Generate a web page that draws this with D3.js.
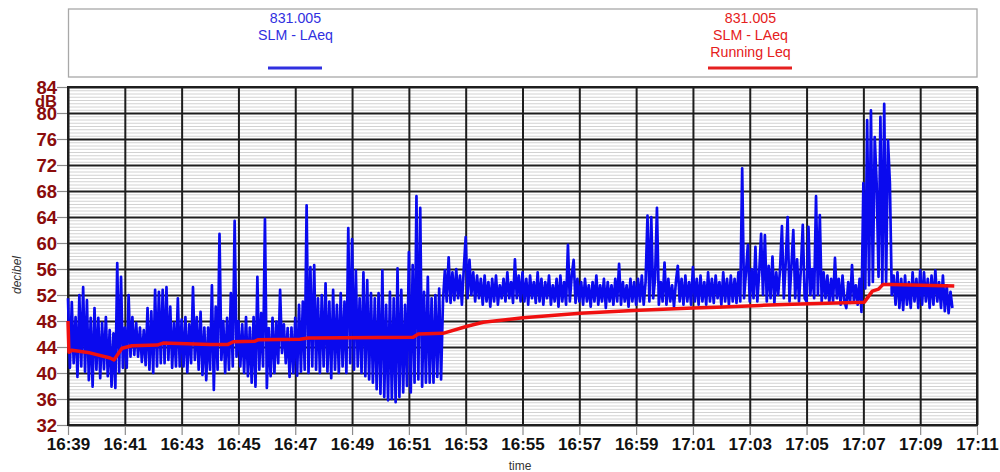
<!DOCTYPE html>
<html>
<head>
<meta charset="utf-8">
<script src="https://cdn.jsdelivr.net/npm/d3@7"></script>
<style>
  html, body { margin: 0; padding: 0; background: #fff; }
  svg { display: block; font-family: "Liberation Sans", Arial, Helvetica, sans-serif; }
</style>
</head>
<body>
<svg id="chart" width="1000" height="472"></svg>
<script>
// ---- data -------------------------------------------------------------
// LAeq samples from the 831.005 sound level meter, one every 4 seconds from 16:39:00
const laeqStart = "16:39:00";
const laeqStepSeconds = 4;
const laeq = [
  // 16:39 - 16:41
  51.5,40.8,50.9,41.5,48.6,39.4,52.0,41.0,53.2,40.2,51.2,38.9,48.5,37.9,50.0,40.5,48.5,39.2,47.7,40.6,48.6,39.5,46.6,37.9,46.1,37.7,56.9,40.1,54.8,40.8,
  // 16:41 - 16:43
  47.0,40.8,52.0,42.5,48.6,42.8,47.7,42.5,47.0,41.7,46.6,41.2,50.0,40.5,49.5,40.0,52.8,41.0,52.5,41.5,52.8,41.5,53.2,42.0,50.2,40.8,47.7,41.0,51.5,41.0,
  // 16:43 - 16:45
  48.2,41.0,48.6,40.1,47.5,41.5,53.2,42.0,48.6,40.5,49.4,39.7,47.0,38.9,47.0,40.5,53.5,37.4,50.2,40.5,61.4,42.0,48.0,40.0,48.5,40.5,52.3,41.0,63.4,42.5,
  // 16:45 - 16:47
  48.0,41.0,47.5,40.0,48.6,39.5,47.0,38.5,48.6,37.9,54.8,40.5,49.2,41.0,63.7,37.7,46.9,39.5,48.5,40.0,47.9,41.5,52.8,43.1,47.5,41.5,46.9,39.4,47.0,40.0,
  // 16:47 - 16:49
  48.5,39.6,50.5,40.2,51.0,40.5,65.8,40.0,56.3,41.0,56.6,40.5,51.5,40.0,52.0,41.0,53.8,40.2,51.0,39.2,52.8,40.5,50.5,40.0,52.3,41.0,51.0,40.0,62.3,41.5,
  // 16:49 - 16:51
  60.6,40.5,55.8,41.0,51.5,40.0,55.5,39.5,54.3,39.0,52.3,38.5,51.5,37.5,52.3,36.8,55.8,36.3,50.5,35.8,52.5,36.0,51.5,35.5,56.1,36.3,52.8,37.0,50.5,38.0,
  // 16:51 - 16:53
  58.6,37.0,56.6,38.5,67.2,39.0,65.4,37.9,52.5,38.5,54.8,38.5,51.5,38.5,52.0,39.4,53.0,39.0,51.0,55.8,51.0,57.8,50.8,55.5,51.2,56.0,51.5,55.0,50.5,56.0,
  // 16:53 - 16:55
  60.9,51.5,57.4,52.0,55.5,51.0,55.0,51.5,54.5,50.5,55.0,51.0,54.0,50.2,54.5,51.0,55.0,50.5,53.5,51.5,54.5,51.0,55.5,51.5,54.0,50.8,57.5,51.5,55.0,51.0,
  // 16:55 - 16:57
  55.5,51.0,54.5,50.5,55.0,51.5,54.0,50.8,55.5,51.0,54.5,50.5,54.0,51.5,55.0,50.5,53.5,51.0,54.5,50.2,55.0,51.0,54.0,50.5,59.7,51.0,55.0,57.4,50.8,54.5,
  // 16:57 - 16:59
  51.0,54.0,50.5,54.5,51.0,53.5,50.2,54.0,51.0,55.0,50.5,53.5,51.0,54.5,50.0,54.0,51.0,53.5,50.5,54.5,51.0,56.8,50.5,54.0,51.0,53.5,50.2,54.5,51.0,54.0,
  // 16:59 - 17:01
  50.5,54.5,51.0,55.0,50.5,54.0,64.2,51.0,64.0,51.5,54.5,65.4,50.5,54.0,51.0,57.0,50.5,54.5,51.0,53.5,50.2,54.0,56.5,51.0,54.5,50.5,55.0,51.0,54.0,50.5,
  // 17:01 - 17:03
  56.3,51.0,54.5,50.5,55.0,51.0,54.0,50.5,55.5,51.0,54.5,50.8,55.0,51.5,54.0,50.5,55.5,51.0,54.5,50.5,55.0,51.0,54.5,50.8,55.5,51.0,71.5,51.5,55.5,59.7,
  // 17:03 - 17:05
  51.0,56.0,51.5,59.4,51.0,55.5,61.4,52.0,61.2,51.0,56.5,51.5,57.9,50.8,55.5,52.0,56.0,62.6,51.5,57.0,64.0,51.0,56.5,62.0,51.5,57.5,51.0,56.0,62.8,51.5,
  // 17:05 - 17:07
  51.0,62.5,52.0,56.0,51.5,67.2,52.0,64.3,51.0,55.5,51.5,55.0,50.8,54.5,51.0,57.7,51.5,54.5,50.5,55.0,51.0,50.0,54.0,50.8,56.6,51.0,53.5,50.5,54.5,49.4,
  // 17:07 - 17:09
  69.2,53.0,78.9,53.5,80.4,54.0,76.3,69.2,54.8,79.4,53.5,81.4,54.0,75.8,69.2,52.0,55.0,50.5,55.5,50.0,54.5,49.7,55.0,50.5,54.0,50.0,55.5,51.0,54.5,50.0,
  // 17:09 - 17:10
  55.8,50.5,55.5,51.0,54.5,50.0,55.0,50.5,55.8,51.0,54.0,50.0,55.0,49.5,53.5,49.2,52.5,50.0
];

// Running Leq of the same meter
const runningTimes = [
  "16:39:00","16:39:02","16:39:08","16:39:46","16:40:29","16:40:37","16:40:54","16:41:15",
  "16:42:08","16:42:21","16:44:00","16:44:38","16:44:49","16:45:35","16:45:41","16:47:10",
  "16:47:27","16:51:09","16:51:20","16:52:12","16:53:03","16:53:37","16:55:01","16:57:02",
  "16:58:54","17:01:00","17:01:51","17:03:22","17:04:47","17:07:02","17:07:19","17:07:32",
  "17:07:41","17:07:56","17:10:12"
];
const runningLeq = [
  48.0,43.2,43.5,43.1,42.3,42.0,43.8,44.2,
  44.3,44.6,44.4,44.4,44.8,44.9,45.1,45.2,
  45.4,45.5,46.0,46.1,47.2,47.8,48.5,49.2,
  49.6,50.0,50.1,50.4,50.6,50.9,52.6,52.9,
  53.6,53.6,53.4
];

// axis ticks
const timeTicks = ["16:39","16:41","16:43","16:45","16:47","16:49","16:51","16:53",
                   "16:55","16:57","16:59","17:01","17:03","17:05","17:07","17:09","17:11"];
const dbTicks = [32,36,40,44,48,52,56,60,64,68,72,76,80,84];
const dbMinorStep = 0.5;

// legend entries
const legendBlue = ["831.005", "SLM - LAeq"];
const legendRed = ["831.005", "SLM - LAeq", "Running Leq"];

// ---- layout -----------------------------------------------------------
const plot = { left: 68, right: 977, top: 87, bottom: 425 };
const BLUE = "#0a0aee";
const RED = "#f01010";
const LABEL_RED = "#8a0c0c";

const parseHMS = d3.timeParse("%H:%M:%S");
const parseHM = d3.timeParse("%H:%M");

const x = d3.scaleTime()
  .domain([parseHM(timeTicks[0]), parseHM(timeTicks[timeTicks.length - 1])])
  .range([plot.left, plot.right]);
const y = d3.scaleLinear()
  .domain([dbTicks[0], dbTicks[dbTicks.length - 1]])
  .range([plot.bottom, plot.top]);

const svg = d3.select("#chart");
const pw = plot.right - plot.left, ph = plot.bottom - plot.top;

// ---- legend box -------------------------------------------------------
const leg = svg.append("g");
leg.append("rect")
  .attr("x", 68.5).attr("y", 9).attr("width", 908.5).attr("height", 68)
  .attr("fill", "#fff").attr("stroke", "#a8a8a8").attr("stroke-width", 1.3);

function legendEntry(lines, cx, color, x1, x2) {
  lines.forEach((t, k) => {
    leg.append("text")
      .attr("x", cx).attr("y", 22.5 + k * 17.3)
      .attr("text-anchor", "middle")
      .attr("font-size", 14.2)
      .attr("fill", color)
      .text(t);
  });
  leg.append("line")
    .attr("x1", x1).attr("x2", x2).attr("y1", 68).attr("y2", 68)
    .attr("stroke", color).attr("stroke-width", 3);
}
legendEntry(legendBlue, 295.5, "#3030e0", 268, 322);
legendEntry(legendRed, 750.5, "#e52020", 708, 792);

// ---- grid -------------------------------------------------------------
const minorValues = d3.range(dbTicks[0], dbTicks[dbTicks.length - 1] + 1e-9, dbMinorStep)
  .filter(v => !dbTicks.includes(v));

svg.append("g")
  .attr("transform", `translate(${plot.left},0)`)
  .call(d3.axisLeft(y).tickValues(minorValues).tickSize(-pw).tickFormat(""))
  .call(g => g.select(".domain").remove())
  .call(g => g.selectAll("line").attr("stroke", "#d2d2d2").attr("stroke-width", 1));

svg.append("g")
  .attr("transform", `translate(${plot.left},0)`)
  .call(d3.axisLeft(y).tickValues(dbTicks).tickSize(-pw).tickFormat(""))
  .call(g => g.select(".domain").remove())
  .call(g => g.selectAll("line").attr("stroke", "#1e1e1e").attr("stroke-width", 2));

svg.append("g")
  .attr("transform", `translate(0,${plot.bottom})`)
  .call(d3.axisBottom(x).tickValues(timeTicks.map(parseHM)).tickSize(-ph).tickFormat(""))
  .call(g => g.select(".domain").remove())
  .call(g => g.selectAll("line").attr("stroke", "#1e1e1e").attr("stroke-width", 2));

// ---- axes -------------------------------------------------------------
const yAxis = svg.append("g")
  .attr("transform", `translate(${plot.left},0)`)
  .call(d3.axisLeft(y).tickValues(dbTicks).tickSize(11).tickPadding(0).tickFormat(d3.format("d")));
yAxis.select(".domain").remove();
yAxis.selectAll(".tick line").attr("stroke", "#8c8c8c").attr("stroke-width", 1.2);
yAxis.selectAll(".tick text")
  .attr("fill", LABEL_RED)
  .attr("font-size", 18.5)
  .attr("font-weight", "bold")
  .attr("font-family", "'Liberation Sans', Arial, sans-serif")
  .attr("dy", "0.36em");

// unit label squeezed between the 84 and 80 tick labels
svg.append("text")
  .attr("x", plot.left - 11).attr("y", 107)
  .attr("text-anchor", "end")
  .attr("fill", LABEL_RED)
  .attr("font-size", 16.5).attr("font-weight", "bold")
  .text("dB");

const xAxis = svg.append("g")
  .attr("transform", `translate(0,${plot.bottom})`)
  .call(d3.axisBottom(x).tickValues(timeTicks.map(parseHM)).tickSize(10).tickPadding(3)
    .tickFormat(d3.timeFormat("%H:%M")));
xAxis.select(".domain").remove();
xAxis.selectAll(".tick line").attr("stroke", "#8c8c8c").attr("stroke-width", 1.2);
xAxis.selectAll(".tick text")
  .attr("fill", "#111")
  .attr("font-size", 17)
  .attr("font-weight", "bold")
  .attr("font-family", "'Liberation Sans', Arial, sans-serif");

svg.append("text")
  .attr("x", 520).attr("y", 470)
  .attr("text-anchor", "middle")
  .attr("font-size", 12).attr("fill", "#333")
  .text("time");

svg.append("text")
  .attr("transform", "translate(21,275) rotate(-90)")
  .attr("text-anchor", "middle")
  .attr("font-size", 12).attr("font-style", "italic").attr("fill", "#333")
  .text("decibel");

// plot frame
svg.append("rect")
  .attr("x", plot.left).attr("y", plot.top).attr("width", pw).attr("height", ph)
  .attr("fill", "none").attr("stroke", "#1e1e1e").attr("stroke-width", 2);

// ---- series -----------------------------------------------------------
const t0 = parseHMS(laeqStart).getTime();
const blueLine = d3.line()
  .x((d, i) => x(new Date(t0 + i * laeqStepSeconds * 1000)))
  .y(d => y(d));

svg.append("path")
  .datum(laeq)
  .attr("d", blueLine)
  .attr("fill", "none")
  .attr("stroke", BLUE)
  .attr("stroke-width", 2.7)
  .attr("stroke-linejoin", "round");

const redPoints = runningTimes.map((t, i) => ({ t: parseHMS(t), v: runningLeq[i] }));
svg.append("path")
  .datum(redPoints)
  .attr("d", d3.line().x(d => x(d.t)).y(d => y(d.v)))
  .attr("fill", "none")
  .attr("stroke", RED)
  .attr("stroke-width", 3.5)
  .attr("stroke-linejoin", "round");
</script>
</body>
</html>
